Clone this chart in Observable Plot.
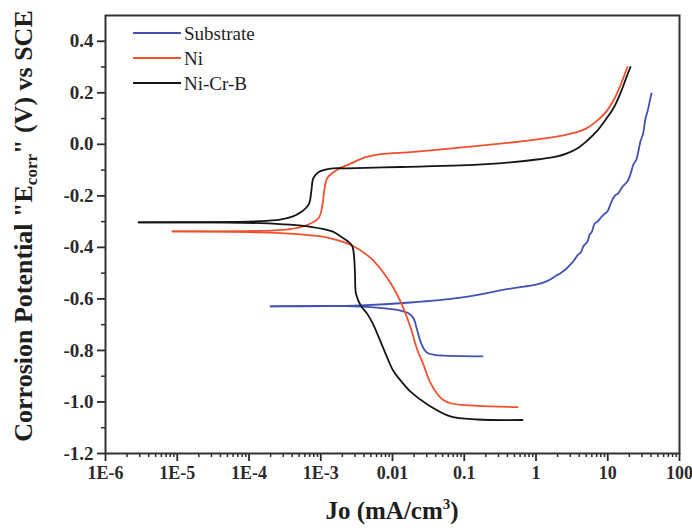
<!DOCTYPE html>
<html><head><meta charset="utf-8">
<script src="https://cdn.jsdelivr.net/npm/d3@7"></script>
<script src="https://cdn.jsdelivr.net/npm/@observablehq/plot@0.6"></script>
<style>body{margin:0;background:#fff} #chart svg{display:block}</style>
</head><body><div id="chart"></div>
<script>
// ---- data; each branch runs from Ecorr outward ----
const seriesNames = ["Substrate", "Ni", "Ni-Cr-B"];
const seriesColors = ["#4152b4", "#f1502c", "#151515"];

// Substrate
const substrateCathJ = [0.0002, 0.0036, 0.0129, 0.0165, 0.0196, 0.022, 0.0245, 0.0275, 0.0308, 0.04, 0.0514, 0.18];
const substrateCathE = [-0.629, -0.63, -0.645, -0.655, -0.675, -0.72, -0.765, -0.795, -0.81, -0.818, -0.82, -0.823];
const substrateAnodJ = [0.0002, 0.0036, 0.0178, 0.0887, 0.441, 1.0, 1.45, 1.9, 2.19, 2.6, 3.03, 3.4, 3.8, 4.2, 4.6, 5.22, 5.6, 6.0, 6.5,
  7.19, 8.0, 9.0, 9.93, 11, 12.5, 14, 16, 18.8, 20.5, 22.8, 25, 28.6, 31, 33.6, 36, 38, 40.7];
const substrateAnodE = [-0.629, -0.625, -0.614, -0.595, -0.56, -0.545, -0.53, -0.51, -0.50, -0.485, -0.466, -0.45, -0.43, -0.42, -0.395, -0.377, -0.35, -0.34, -0.31,
  -0.30, -0.285, -0.27, -0.26, -0.23, -0.2, -0.19, -0.165, -0.144, -0.12, -0.078, -0.06, 0.012, 0.04, 0.10, 0.13, 0.16, 0.198];

// Ni
const niCathJ = [8.6e-6, 0.000145, 0.00072, 0.00124, 0.0026, 0.0049, 0.0085, 0.0129, 0.0178, 0.0223, 0.027, 0.033, 0.0424, 0.05, 0.0643, 0.1, 0.153, 0.553];
const niCathE = [-0.338, -0.342, -0.353, -0.362, -0.39, -0.44, -0.52, -0.61, -0.71, -0.80, -0.855, -0.92, -0.97, -0.99, -1.005, -1.012, -1.015, -1.02];
const niAnodJ = [8.6e-6, 0.000145, 0.00035, 0.00058, 0.00093, 0.00105, 0.00112, 0.00124, 0.00171, 0.0026, 0.0042, 0.0068, 0.0178, 0.0566,
  0.486, 1.1, 2.42, 3.8, 5.06, 7.0, 9.6, 12, 14.6, 18.8];
const niAnodE = [-0.338, -0.336, -0.33, -0.318, -0.287, -0.24, -0.18, -0.13, -0.098, -0.075, -0.05, -0.038, -0.03, -0.018,
  0.008, 0.02, 0.035, 0.048, 0.062, 0.09, 0.128, 0.17, 0.22, 0.30];

// Ni-Cr-B
const nicrbCathJ = [2.9e-6, 0.000145, 0.00072, 0.00145, 0.00188, 0.0024, 0.00275, 0.0029, 0.003, 0.0031, 0.0036, 0.0045, 0.0054, 0.0068,
  0.0085, 0.0103, 0.0142, 0.0178, 0.0308, 0.0643, 0.153, 0.649];
const nicrbCathE = [-0.303, -0.306, -0.32, -0.338, -0.357, -0.377, -0.395, -0.43, -0.50, -0.58, -0.625, -0.66, -0.70, -0.765,
  -0.83, -0.88, -0.93, -0.96, -1.01, -1.056, -1.068, -1.07];
const nicrbAnodJ = [2.9e-6, 0.000145, 0.00027, 0.00041, 0.00052, 0.00068, 0.00074, 0.00079, 0.00093, 0.00137, 0.0023, 0.0129, 0.089,
  0.44, 1.1, 1.9, 2.7, 3.8, 5.2, 7.0, 9.6, 12, 15.1, 18.2, 20.7];
const nicrbAnodE = [-0.303, -0.298, -0.292, -0.28, -0.265, -0.233, -0.18, -0.13, -0.108, -0.094, -0.093, -0.088, -0.082,
  -0.07, -0.058, -0.048, -0.035, -0.015, 0.015, 0.05, 0.10, 0.14, 0.20, 0.26, 0.30];

// axes
const xMajorTicks = [1e-6, 1e-5, 1e-4, 1e-3, 0.01, 0.1, 1, 10, 100];
const xTickLabels = ["1E-6", "1E-5", "1E-4", "1E-3", "0.01", "0.1", "1", "10", "100"];
const yMajorTicks = [-1.2, -1.0, -0.8, -0.6, -0.4, -0.2, 0.0, 0.2, 0.4];
const yMinorTicks = [-1.1, -0.9, -0.7, -0.5, -0.3, -0.1, 0.1, 0.3];
const xTitle = ["Jo (mA/cm", "3", ")"];
const yTitle = ['Corrosion Potential "E', "corr", '" (V) vs SCE'];

// ---- build ----
const xMinorTicks = [];
for (let e = -6; e < 2; e++) for (let k = 2; k <= 9; k++) xMinorTicks.push(k * Math.pow(10, e));

const branches = [
  [0, "c", substrateCathJ, substrateCathE], [0, "a", substrateAnodJ, substrateAnodE],
  [1, "c", niCathJ, niCathE], [1, "a", niAnodJ, niAnodE],
  [2, "c", nicrbCathJ, nicrbCathE], [2, "a", nicrbAnodJ, nicrbAnodE]
];
const rows = [];
branches.forEach(([k, b, J, E]) => {
  J.forEach((j, i) => rows.push({series: seriesNames[k], branch: seriesNames[k] + b, J: j, E: E[i]}));
});

const font = "'Liberation Serif', 'Times New Roman', serif";
const axisColor = "#2a2a2a";

const plot = Plot.plot({
  width: 692, height: 531,
  marginLeft: 105, marginRight: 13, marginTop: 15, marginBottom: 78,
  style: {fontFamily: font, background: "#fff", color: axisColor},
  x: {type: "log", domain: [1e-6, 100]},
  y: {domain: [-1.2, 0.5]},
  color: {domain: seriesNames, range: seriesColors},
  marks: [
    Plot.axisX({ticks: xMinorTicks, tickSize: 4, text: null, label: null, strokeWidth: 1.5}),
    Plot.axisX({ticks: xMajorTicks, tickSize: 8, tickPadding: 5, label: null, strokeWidth: 1.8,
      tickFormat: d => xTickLabels[Math.round(Math.log10(d)) + 6],
      fontSize: 18, fontWeight: "bold"}),
    Plot.axisY({ticks: yMinorTicks, tickSize: 4, text: null, label: null, strokeWidth: 1.5}),
    Plot.axisY({ticks: yMajorTicks, tickSize: 8, tickPadding: 4, label: null, strokeWidth: 1.8,
      tickFormat: d => d.toFixed(1), fontSize: 19, fontWeight: "bold"}),
    Plot.line(rows, {x: "J", y: "E", z: "branch", stroke: "series", strokeWidth: 1.8, curve: "catmull-rom"}),
    Plot.frame({stroke: "#333", strokeWidth: 2})
  ]
});

const svg = d3.select(plot);
// force serif on the tick labels
svg.selectAll("text").style("font-family", font).style("font-weight", "bold");

// y title
const yt = svg.append("text")
  .attr("transform", "translate(32,226) rotate(-90)")
  .attr("text-anchor", "middle")
  .attr("fill", "#1e1e1e")
  .style("font-family", font).style("font-weight", "bold").style("font-size", "26px");
yt.append("tspan").text(yTitle[0]);
yt.append("tspan").attr("dy", 5).style("font-size", "17px").text(yTitle[1]);
yt.append("tspan").attr("dy", -5).text(yTitle[2]);

// x title
const xt = svg.append("text")
  .attr("transform", "translate(392,519)")
  .attr("text-anchor", "middle")
  .attr("fill", "#1e1e1e")
  .style("font-family", font).style("font-weight", "bold").style("font-size", "25px");
xt.append("tspan").text(xTitle[0]);
xt.append("tspan").attr("dy", -10).style("font-size", "15px").text(xTitle[1]);
xt.append("tspan").attr("dy", 10).text(xTitle[2]);

// legend
const lg = svg.append("g");
seriesNames.forEach((name, i) => {
  const y = 33 + 25 * i;
  lg.append("line").attr("x1", 133).attr("x2", 181).attr("y1", y).attr("y2", y)
    .attr("stroke", seriesColors[i]).attr("stroke-width", 1.8);
  lg.append("text").attr("x", 184).attr("y", y).attr("dy", "0.35em")
    .attr("text-anchor", "start")
    .attr("fill", "#1e1e1e")
    .style("font-family", font).style("font-size", "19px").text(name);
});

document.getElementById("chart").appendChild(plot);
</script>
</body></html>
